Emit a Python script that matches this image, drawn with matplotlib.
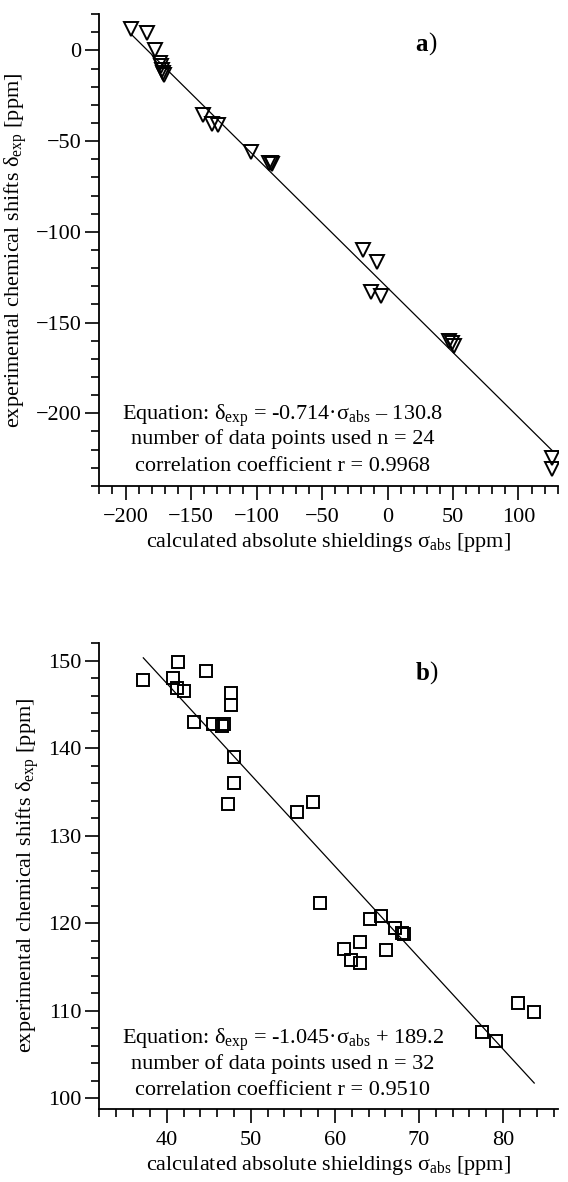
import matplotlib
matplotlib.use("Agg")
import matplotlib.pyplot as plt
import numpy as np
from matplotlib.ticker import MultipleLocator

plt.rcParams['font.family'] = ['Liberation Serif', 'DejaVu Serif']
plt.rcParams['mathtext.fontset'] = 'custom'
plt.rcParams['mathtext.rm'] = 'Liberation Serif'
plt.rcParams['mathtext.it'] = 'Liberation Serif:italic'
plt.rcParams['font.size'] = 16

# panel a: calculated shieldings vs experimental shifts
sigmaA = [-195.6, -183.3, -177.7, -174.1, -173.0, -172.5, -171.5, -170.5,
          -140.9, -134.2, -129.1, -104.1, -90.5, -89.0, -88.0,
          -18.9, -8.2, -12.3, -4.6, 47.0, 49.5, 51.0, 125.8, 125.8]
deltaA = [12.1, 9.9, 0.2, -6.9, -8.8, -10.6, -12.4, -13.8,
          -35.7, -40.7, -41.3, -56.2, -61.8, -62.3, -62.8,
          -110.0, -116.6, -133.3, -135.5, -160.0, -161.2, -163.0, -224.4, -230.5]
slopeA, interA = -0.714, -130.8
infoA = ['Equation: δ$_{\\mathrm{exp}}$ = -0.714·σ$_{\\mathrm{abs}}$ – 130.8',
         'number of data points used n = 24',
         'correlation coefficient r = 0.9968']

# panel b
sigmaB = [37.22, 41.34, 40.78, 41.26, 42.05, 44.67, 47.6, 47.6,
          43.24, 45.5, 46.8, 46.57, 47.99, 47.99, 47.3, 55.44,
          57.34, 58.2, 64.15, 65.45, 67.2, 68.03, 68.18, 62.95,
          61.1, 66.05, 61.97, 62.96, 77.5, 79.2, 81.8, 83.7]
deltaB = [147.8, 149.85, 147.97, 146.9, 146.54, 148.78, 146.3, 144.9,
          143.0, 142.7, 142.7, 142.5, 139.0, 136.0, 133.57, 132.7,
          133.87, 122.35, 120.5, 120.8, 119.5, 118.9, 118.8, 117.8,
          117.05, 116.9, 115.8, 115.4, 107.6, 106.5, 110.9, 109.8]
slopeB, interB = -1.045, 189.2
infoB = ['Equation: δ$_{\\mathrm{exp}}$ = -1.045·σ$_{\\mathrm{abs}}$ + 189.2',
         'number of data points used n = 32',
         'correlation coefficient r = 0.9510']

fig = plt.figure(figsize=(5.68, 11.82), dpi=100)
axA = fig.add_axes([0.175, 0.589, 0.807, 0.399])
axB = fig.add_axes([0.175, 0.062, 0.807, 0.394])

xlab = r'calculated absolute shieldings σ$_{\mathrm{abs}}$ [ppm]'
ylab = r'experimental chemical shifts δ$_{\mathrm{exp}}$ [ppm]'


def style(ax):
    for s in ['top', 'right']:
        ax.spines[s].set_visible(False)
    for s in ['left', 'bottom']:
        ax.spines[s].set_linewidth(1.3)
    ax.tick_params(which='major', direction='out', length=10, width=1.2, pad=3)
    ax.tick_params(which='minor', direction='out', length=5.5, width=1.2)
    ax.tick_params(axis='x', which='major', pad=6)
    ax.set_xlabel(xlab, labelpad=3)
    ax.set_ylabel(ylab, labelpad=5)


def info(ax, lines, ys):
    for line, y in zip(lines, ys):
        ax.text(0.40, y, line, transform=ax.transAxes, ha='center',
                va='center_baseline')


def tag(ax, letter):
    t = ax.text(0.69, 0.935, letter, transform=ax.transAxes, fontweight='bold',
                fontsize=18, ha='left', va='center')
    ax.annotate(')', xy=(1, 0), xycoords=t, va='bottom', fontsize=18)


# --- a ---
axA.plot(sigmaA, deltaA, 'v', ms=10, mfc='none', mec='black', mew=1.4, ls='none')
xs = np.array([min(sigmaA), max(sigmaA)])
axA.plot(xs, slopeA * xs + interA, color='black', lw=0.9)
axA.set_xlim(-220, 130)
axA.set_ylim(-240, 20)
axA.xaxis.set_major_locator(MultipleLocator(50))
axA.xaxis.set_minor_locator(MultipleLocator(10))
axA.yaxis.set_major_locator(MultipleLocator(50))
axA.yaxis.set_minor_locator(MultipleLocator(10))
style(axA)
info(axA, infoA, [0.159, 0.104, 0.047])
tag(axA, 'a')

# --- b ---
axB.plot(sigmaB, deltaB, 's', ms=9, mfc='none', mec='black', mew=1.4, ls='none')
xs = np.array([min(sigmaB), max(sigmaB)])
axB.plot(xs, slopeB * xs + interB, color='black', lw=0.9)
axB.set_xlim(32, 86.5)
axB.set_ylim(98.8, 152)
axB.xaxis.set_major_locator(MultipleLocator(10))
axB.xaxis.set_minor_locator(MultipleLocator(2))
axB.yaxis.set_major_locator(MultipleLocator(10))
axB.yaxis.set_minor_locator(MultipleLocator(2))
style(axB)
info(axB, infoB, [0.158, 0.101, 0.045])
tag(axB, 'b')

fig.savefig('out.png', dpi=100)
